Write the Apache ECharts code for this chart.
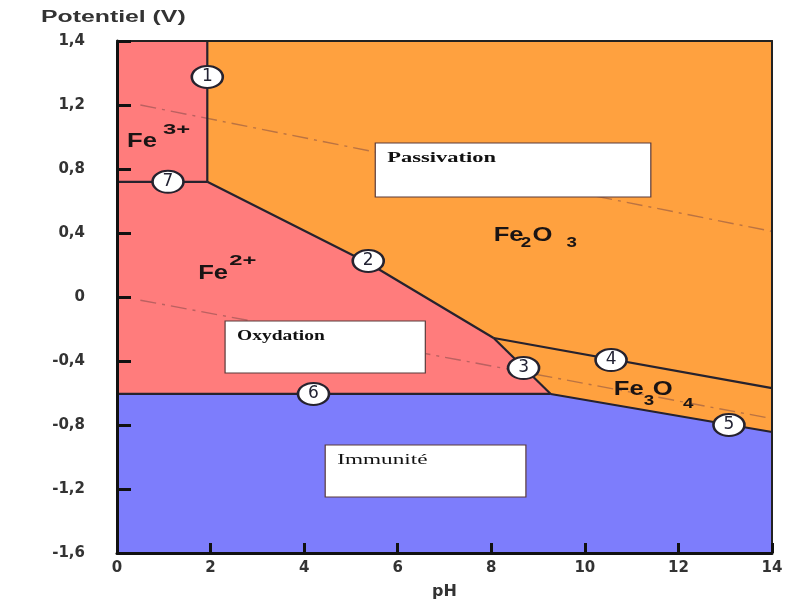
<!DOCTYPE html>
<html><head><meta charset="utf-8">
<script src="https://cdn.jsdelivr.net/npm/echarts@6/dist/echarts.min.js"></script>
<style>html,body{margin:0;padding:0;background:#fff}#c{width:785px;height:603px}</style>
</head><body><div id="c"></div>
<script>
// ---- axis ticks ----
const xTickLabels = ['0','2','4','6','8','10','12','14'];
const yTickValues = [-1.6,-1.2,-0.8,-0.4,0,0.4,0.8,1.2,1.6];
const yTickLabels = ['-1,6','-1,2','-0,8','-0,4','0','0,4','0,8','1,2','1,4'];

// ---- stability domains (pH, potential V) ----
const regionFe3 = [[0,1.6],[1.93,1.6],[1.93,0.72],[0,0.72]];
const regionFe2 = [[0,0.72],[1.93,0.72],[5.37,0.2125],[8.05,-0.256],[9.27,-0.606],[0,-0.606]];
const regionFe2O3 = [[1.93,1.6],[14,1.6],[14,-0.57],[8.05,-0.256],[5.37,0.2125],[1.93,0.72]];
const regionFe3O4 = [[8.05,-0.256],[14,-0.57],[14,-0.844],[9.27,-0.606]];
const regionFe = [[0,-0.606],[9.27,-0.606],[14,-0.844],[14,-1.6],[0,-1.6]];

// ---- boundary lines ----
const line1 = [[1.93,1.6],[1.93,0.72]];
const line2 = [[1.93,0.72],[5.37,0.2125],[8.05,-0.256]];
const line3 = [[8.05,-0.256],[9.27,-0.606]];
const line4 = [[8.05,-0.256],[14,-0.57]];
const line5 = [[9.27,-0.606],[14,-0.844]];
const line6 = [[0,-0.606],[9.27,-0.606]];
const line7 = [[0,0.72],[1.93,0.72]];

// ---- water stability lines (dash-dot) ----
const waterO2 = [[0.5,1.2],[14,0.41]];
const waterH2 = [[0.5,-0.02],[14,-0.76]];

// ---- numbered markers ----
const markerNames = ['1','2','3','4','5','6','7'];
const markerPH = [1.93,5.37,8.69,10.56,13.08,4.2,1.09];
const markerE = [1.375,0.225,-0.444,-0.394,-0.80,-0.606,0.72];

// ---- white boxes (pH0, E0, pH1, E1) ----
const boxTexts = ['Passivation','Oxydation','Immunité'];
const boxPH0 = [5.52, 2.31, 4.45];
const boxE0 = [0.9625, -0.15, -0.925];
const boxPH1 = [11.41, 6.59, 8.74];
const boxE1 = [0.625, -0.475, -1.25];

// ---- species labels (pieces) ----
const speciesTexts = ['Fe','3+','Fe','2+','Fe','2','O','3','Fe','3','O','4'];
const speciesKinds = ['main','sup','main','sup','main','sub','main','sub','main','sub','main','sub'];
const speciesPH = [0.214,0.985,1.734,2.398,8.05,8.63,8.88,9.61,10.62,11.26,11.45,12.10];
const speciesE = [0.969,1.04,0.15,0.222,0.3875,0.34,0.3875,0.34,-0.581,-0.65,-0.581,-0.665];

// ---- styles ----
const regionColors = ['#FF7C7C','#FF7C7C','#FFA13F','#FFA13F','#7D7DFC'];
const regions = [regionFe3, regionFe2, regionFe2O3, regionFe3O4, regionFe];
const boundaries = [line1,line2,line3,line4,line5,line6,line7];
const kindFont = {
  main: {font: 'bold 20px "Liberation Sans"', scale: 1.28},
  sup: {font: 'bold 14px "Liberation Sans"', scale: 1.7},
  sub: {font: 'bold 15px "Liberation Sans"', scale: 1.25}
};
const boxFont = [
  {font: 'bold 15px "Liberation Serif"', scale: 1.5},
  {font: 'bold 15px "Liberation Serif"', scale: 1.3},
  {font: '15px "Liberation Serif"', scale: 1.55}
];

const chart = echarts.init(document.getElementById('c'), null, {renderer: 'canvas'});

const series = [];
series.push({
  type: 'custom', z: 1, silent: true,
  data: regions.map(r => r[0]),
  renderItem: function (params, api) {
    const pts = regions[params.dataIndex].map(p => api.coord(p));
    return {type: 'polygon', shape: {points: pts}, style: {fill: regionColors[params.dataIndex], stroke: regionColors[params.dataIndex], lineWidth: 0.5}};
  }
});
[waterO2, waterH2].forEach(w => series.push({
  type: 'line', z: 2, data: w, symbol: 'none', silent: true,
  lineStyle: {color: 'rgba(120,70,70,0.5)', width: 1.4, type: [16, 6, 3, 6]}
}));
series.push({
  type: 'custom', z: 3, silent: true,
  data: boxTexts.map((t, i) => [boxPH0[i], boxE0[i]]),
  renderItem: function (params, api) {
    const i = params.dataIndex;
    const a = api.coord([boxPH0[i], boxE0[i]]);
    const b = api.coord([boxPH1[i], boxE1[i]]);
    return {
      type: 'group',
      children: [
        {type: 'rect', shape: {x: a[0], y: a[1], width: b[0] - a[0], height: b[1] - a[1]},
         style: {fill: '#fff', stroke: '#5a3a3a', lineWidth: 1.2}},
        {type: 'text', x: a[0] + 12, y: a[1] + 15, scaleX: boxFont[i].scale,
         style: {text: boxTexts[i], font: boxFont[i].font, fill: '#111', align: 'left', verticalAlign: 'middle'}}
      ]
    };
  }
});
boundaries.forEach(l => series.push({
  type: 'line', z: 4, data: l, symbol: 'none', silent: true,
  lineStyle: {color: '#26222e', width: 2.2}
}));
series.push({
  type: 'scatter', z: 5, silent: true,
  data: markerNames.map((n, i) => [markerPH[i], markerE[i], n]),
  symbol: 'circle', symbolSize: [31, 22],
  itemStyle: {color: '#fff', borderColor: '#26222e', borderWidth: 2.2, opacity: 1},
  label: {show: true, position: 'inside', formatter: p => p.value[2],
    fontFamily: 'DejaVu Sans', fontSize: 17, color: '#222233'}
});
series.push({
  type: 'custom', z: 6, silent: true,
  data: speciesTexts.map((t, i) => [speciesPH[i], speciesE[i]]),
  renderItem: function (params, api) {
    const i = params.dataIndex;
    const p = api.coord([speciesPH[i], speciesE[i]]);
    const k = kindFont[speciesKinds[i]];
    return {type: 'text', x: p[0], y: p[1], scaleX: k.scale,
      style: {text: speciesTexts[i], font: k.font, fill: '#1a1414', align: 'left', verticalAlign: 'middle'}};
  }
});

const labelStyle = {fontFamily: 'DejaVu Sans', fontWeight: 'bold', fontSize: 15, color: '#333'};

chart.setOption({
  animation: false,
  backgroundColor: '#fff',
  graphic: [{
    type: 'text', left: 41, top: 10, scaleX: 1.55,
    style: {text: 'Potentiel (V)', font: 'bold 16px "Liberation Sans"', fill: '#333'}
  }],
  grid: {left: 117, right: 13, top: 41, bottom: 50, outerBoundsMode: 'none', containLabel: false},
  xAxis: [{
    type: 'value', min: 0, max: 14, interval: 2, z: 10,
    name: 'pH', nameLocation: 'middle', nameGap: 31,
    nameTextStyle: {fontFamily: 'DejaVu Sans', fontWeight: 'bold', fontSize: 16, color: '#333'},
    axisLine: {show: true, onZero: false, lineStyle: {color: '#111', width: 3}},
    axisTick: {show: true, inside: true, length: 10, lineStyle: {color: '#111', width: 3}},
    axisLabel: Object.assign({margin: 8, formatter: (v) => xTickLabels[Math.round(v / 2)]}, labelStyle),
    splitLine: {show: false}
  }, {
    type: 'value', min: 0, max: 14, position: 'top', z: 10,
    axisLine: {show: true, onZero: false, lineStyle: {color: '#222', width: 2}},
    axisTick: {show: false}, axisLabel: {show: false}, splitLine: {show: false}
  }],
  yAxis: [{
    type: 'value', min: -1.6, max: 1.6, interval: 0.4, z: 10,
    axisLine: {show: true, onZero: false, lineStyle: {color: '#111', width: 3}},
    axisTick: {show: true, inside: true, length: 14, lineStyle: {color: '#111', width: 3}},
    axisLabel: Object.assign({margin: 32, formatter: (v) => {
      let best = 0;
      yTickValues.forEach((t, i) => { if (Math.abs(t - v) < Math.abs(yTickValues[best] - v)) best = i; });
      return yTickLabels[best];
    }}, labelStyle),
    splitLine: {show: false}
  }, {
    type: 'value', min: -1.6, max: 1.6, position: 'right', z: 10,
    axisLine: {show: true, onZero: false, lineStyle: {color: '#222', width: 2}},
    axisTick: {show: false}, axisLabel: {show: false}, splitLine: {show: false}
  }],
  series: series
});
</script>
</body></html>
